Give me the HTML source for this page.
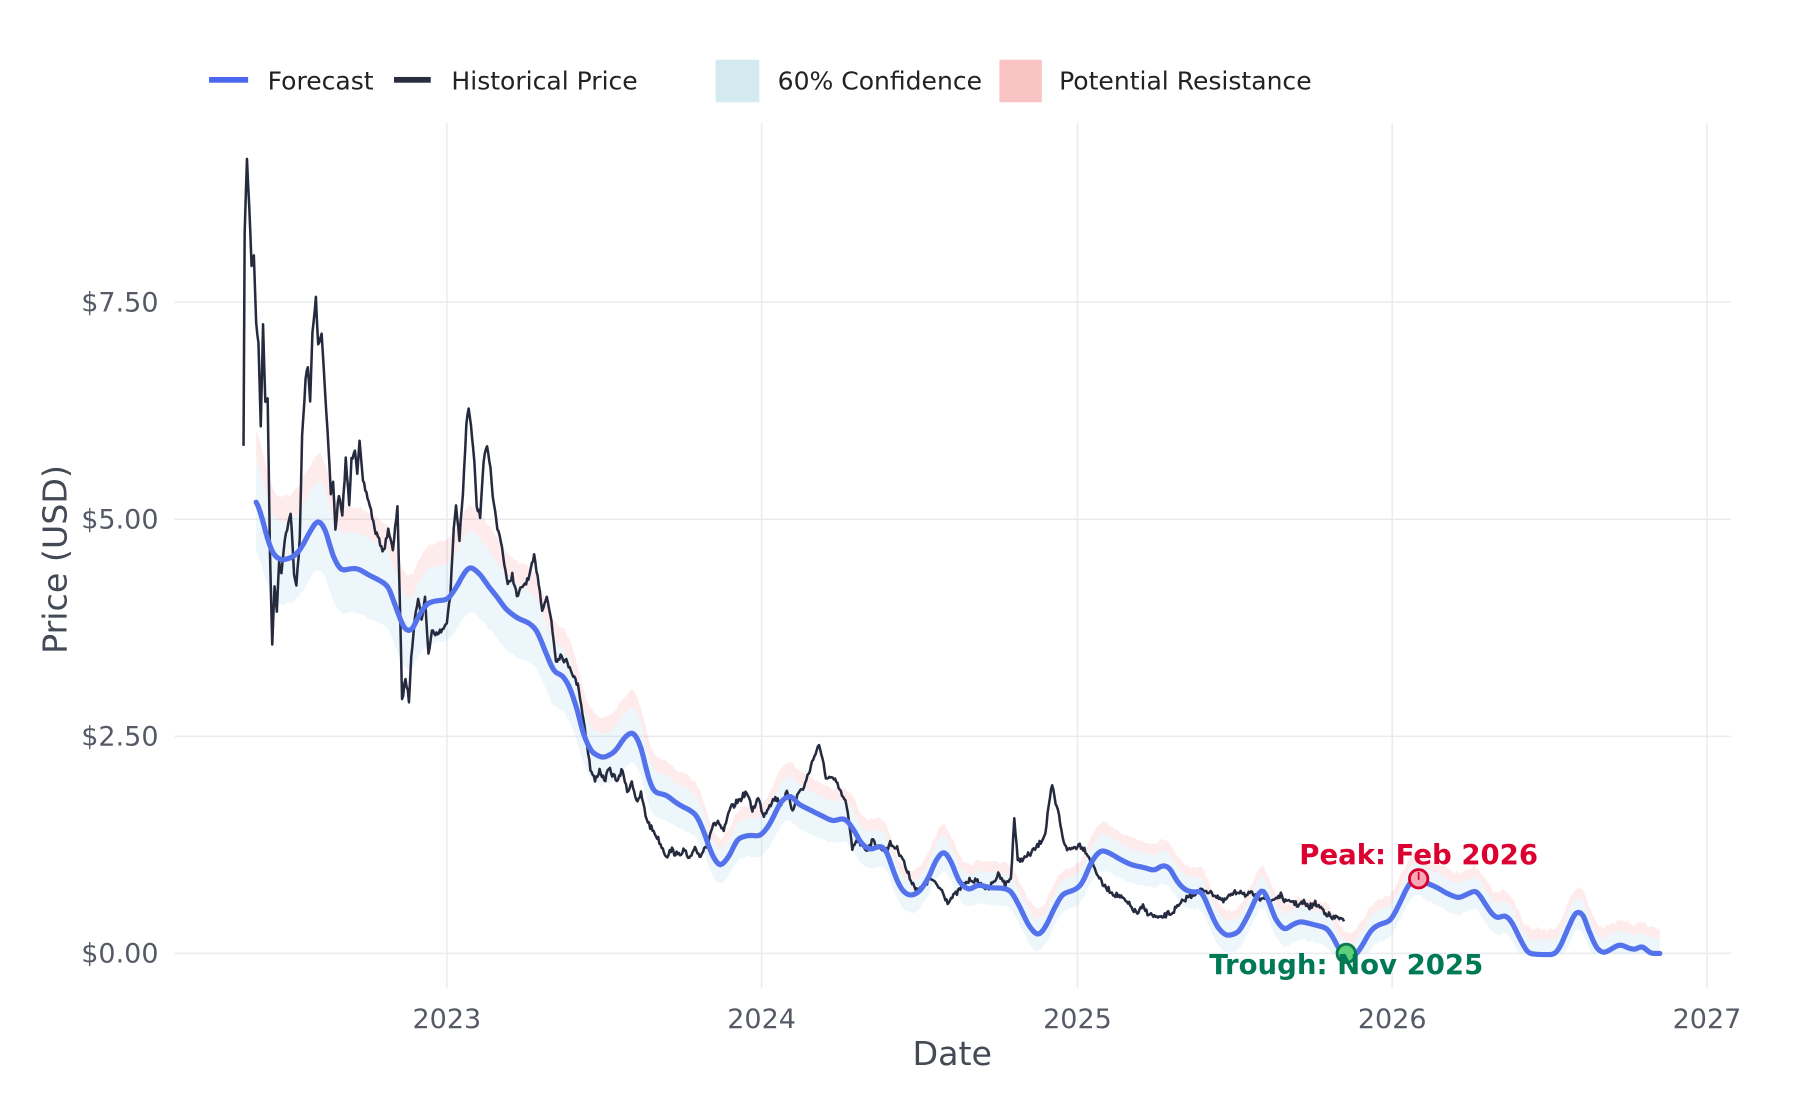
<!DOCTYPE html>
<html><head><meta charset="utf-8"><style>
html,body{margin:0;padding:0;background:#fff;width:1800px;height:1100px;overflow:hidden}
svg{display:block}
text{font-family:"DejaVu Sans","Liberation Sans",sans-serif}
</style></head><body>
<svg id="s" width="1800" height="1100" viewBox="0 0 1567 957.6" xmlns="http://www.w3.org/2000/svg">
<g stroke="#e9ebef" stroke-width="1.3">
<line x1="152" y1="263" x2="1507" y2="263"/><line x1="152" y1="452" x2="1507" y2="452"/>
<line x1="152" y1="641" x2="1507" y2="641"/><line x1="152" y1="830" x2="1507" y2="830"/>
<line x1="389" y1="107" x2="389" y2="860"/><line x1="663" y1="107" x2="663" y2="860"/>
<line x1="938" y1="107" x2="938" y2="860"/><line x1="1212" y1="107" x2="1212" y2="860"/>
<line x1="1486" y1="107" x2="1486" y2="860"/>
</g>
<g id="bands"></g>
<path id="hist" fill="none" stroke="#262a3e" stroke-width="2.2" stroke-linejoin="round"/>
<path id="fc" fill="none" stroke="#5472ec" stroke-width="4.5" stroke-linejoin="round" stroke-linecap="round"/>
<g fill="#555a66" font-size="23.5">
<text x="138" y="271" text-anchor="end">$7.50</text><text x="138" y="460" text-anchor="end">$5.00</text>
<text x="138" y="649" text-anchor="end">$2.50</text><text x="138" y="838" text-anchor="end">$0.00</text>
<text x="389" y="895" text-anchor="middle">2023</text><text x="663" y="895" text-anchor="middle">2024</text>
<text x="938" y="895" text-anchor="middle">2025</text><text x="1212" y="895" text-anchor="middle">2026</text>
<text x="1486" y="895" text-anchor="middle">2027</text>
</g>
<text x="829" y="927" text-anchor="middle" font-size="29" fill="#444a55">Date</text>
<text transform="translate(58,487) rotate(-90)" text-anchor="middle" font-size="29" fill="#444a55">Price (USD)</text>
<g font-size="21.8" fill="#222">
<rect x="182" y="67" width="34" height="5" fill="#4a66ee"/><text x="233" y="78">Forecast</text>
<rect x="343" y="67" width="32" height="5" fill="#2a2d40"/><text x="393" y="78">Historical Price</text>
<rect x="623" y="52" width="38" height="37" fill="#d4eaf1"/><text x="677" y="78">60% Confidence</text>
<rect x="870" y="52" width="37" height="37" fill="#f9c4c4"/><text x="922" y="78">Potential Resistance</text>
</g>
<circle cx="1235" cy="765" r="8" fill="#f7a8b8" stroke="#d9002c" stroke-width="2.5"/>
<line x1="1235" y1="759" x2="1235" y2="766" stroke="#d9002c" stroke-width="1.5"/>
<text x="1235" y="752" text-anchor="middle" font-size="24" font-weight="bold" fill="#dc0030">Peak: Feb 2026</text>
<circle cx="1172" cy="830" r="8" fill="#5ccf7a" stroke="#0a7a4d" stroke-width="2.5"/>
<text x="1172" y="848" text-anchor="middle" font-size="24" font-weight="bold" fill="#007a55">Trough: Nov 2025</text>
</svg>
<script>
var H=[[212,390],[213,200],[215,140],[217,180],[219,230],[221,222],[223,280],[225,300],[227,370],[229,285],[231,350],[233,345],[235,480],[237,560],[239,510],[241,530],[243,490],[245,500],[248,470],[250,460],[253,445],[256,500],[258,510],[261,470],[263,380],[266,330],[268,320],[270,350],[272,290],[275,260],[277,300],[280,290],[283,340],[286,390],[288,430],[290,420],[292,460],[295,430],[298,450],[301,400],[304,440],[306,400],[309,390],[311,410],[313,385],[316,420],[319,430],[322,440],[326,460],[330,470],[334,480],[338,460],[342,480],[346,440],[348,520],[350,610],[353,590],[356,610],[358,570],[361,540],[364,520],[367,540],[370,520],[373,570],[376,550],[380,550],[385,550],[389,540],[392,520],[395,460],[397,440],[400,470],[403,430],[406,370],[408,355],[411,380],[413,400],[415,440],[418,450],[421,400],[424,390],[427,410],[430,440],[433,460],[436,470],[439,490],[442,510],[446,500],[450,520],[455,510],[460,505],[465,485],[468,500],[472,530],[476,520],[480,540],[484,575],[488,570],[492,575],[496,580],[500,590],[504,600],[507,620],[510,640],[514,670],[518,680],[522,670],[526,680],[530,670],[534,675],[538,680],[542,670],[546,690],[550,680],[555,700],[558,690],[562,710],[566,720],[570,725],[575,735],[580,745],[585,740],[590,745],[595,740],[600,748],[605,740],[610,745],[615,735],[620,720],[625,715],[630,725],[635,705],[640,700],[645,695],[650,690],[655,705],[660,695],[665,710],[670,700],[675,695],[680,700],[685,690],[690,705],[695,690],[700,685],[705,670],[710,655],[713,648],[716,660],[719,680],[722,675],[727,680],[732,690],[737,700],[742,740],[746,730],[750,735],[755,740],[760,732],[765,738],[770,740],[775,735],[780,738],[785,745],[790,760],[795,770],[800,775],[805,770],[810,765],[815,770],[820,775],[825,785],[830,780],[835,775],[840,770],[845,765],[850,768],[855,770],[860,775],[865,768],[870,760],[875,770],[880,765],[883,712],[886,750],[890,748],[895,745],[900,740],[905,735],[910,725],[913,700],[916,685],[919,700],[922,710],[925,730],[930,740],[935,738],[940,735],[945,740],[950,750],[955,760],[960,770],[965,775],[970,778],[975,780],[980,785],[985,790],[990,795],[995,790],[1000,795],[1005,798],[1010,800],[1015,796],[1020,795],[1025,790],[1030,785],[1035,780],[1040,778],[1045,775],[1050,775],[1055,778],[1060,780],[1065,785],[1070,780],[1075,778],[1080,775],[1085,780],[1090,778],[1095,782],[1100,780],[1105,785],[1110,782],[1115,780],[1120,786],[1125,784],[1130,788],[1135,786],[1140,790],[1145,787],[1150,790],[1155,795],[1160,800],[1165,798],[1170,803]];
var F=[[223,435],[228,450],[233,470],[238,483],[245,488],[255,485],[262,478],[270,462],[277,452],[283,460],[290,485],[297,497],[305,495],[312,495],[320,500],[330,505],[338,510],[345,530],[352,548],[358,550],[365,535],[372,525],[380,523],[390,522],[398,510],[405,497],[410,493],[418,500],[425,510],[433,520],[440,530],[450,538],[460,542],[467,548],[474,565],[482,585],[490,588],[497,600],[503,620],[508,640],[515,655],[525,660],[535,655],[545,640],[552,637],[558,650],[565,680],[570,690],[580,692],[590,700],[600,705],[607,710],[613,725],[620,745],[627,755],[635,745],[642,730],[652,727],[662,728],[670,718],[680,697],[688,692],[695,700],[705,705],[715,710],[725,715],[735,712],[742,720],[750,735],[758,740],[766,736],[772,740],[778,760],[785,775],[792,780],[800,777],[808,765],[815,748],[822,740],[828,750],[835,768],[843,775],[852,770],[862,773],[872,773],[880,775],[888,790],[895,805],[903,815],[910,808],[918,790],[925,778],[935,775],[942,770],[950,750],[958,740],[965,742],[975,748],[985,753],[995,755],[1005,758],[1012,753],[1018,755],[1025,768],[1032,775],[1040,777],[1046,775],[1052,790],[1060,808],[1068,815],[1078,812],[1085,800],[1092,785],[1098,773],[1103,780],[1110,800],[1118,810],[1125,805],[1132,802],[1140,804],[1148,806],[1155,808],[1160,815],[1165,825],[1170,832],[1177,835],[1185,825],[1193,810],[1200,805],[1210,802],[1217,790],[1225,772],[1233,762],[1240,768],[1250,772],[1260,778],[1270,782],[1278,778],[1285,775],[1292,785],[1298,795],[1304,800],[1310,796],[1316,802],[1322,815],[1330,830],[1340,831],[1353,831],[1358,825],[1365,808],[1372,793],[1378,795],[1383,810],[1390,826],[1396,830],[1403,826],[1410,822],[1417,825],[1423,827],[1430,823],[1436,830],[1445,830]];
var seed=7;function r(){seed=(seed*16807)%2147483647;return seed/2147483647-0.5;}
function dense(P,step){var o=[];for(var i=0;i<P.length-1;i++){var a=P[i],b=P[i+1];var n=Math.max(1,Math.round((b[0]-a[0])/step));for(var k=0;k<n;k++){var t=k/n;o.push([a[0]+(b[0]-a[0])*t,a[1]+(b[1]-a[1])*t]);}}o.push(P[P.length-1]);return o;}
var hd=dense(H,1).map(function(p,i){return [p[0],p[1]+r()*6*(i%2?1:0.6)];});
document.getElementById('hist').setAttribute('d','M'+hd.map(function(p){return p[0].toFixed(1)+','+p[1].toFixed(1)}).join('L'));
function sm(P){var o=[];for(var i=0;i<P.length;i++){var s=0,w=0;for(var j=-2;j<=2;j++){var q=P[Math.min(P.length-1,Math.max(0,i+j))];var ww=3-Math.abs(j);s+=q[1]*ww;w+=ww;}o.push([P[i][0],s/w]);}return o;}
var fs=sm(dense(F,2));
document.getElementById('fc').setAttribute('d','M'+fs.map(function(p){return p[0].toFixed(1)+','+Math.min(p[1],831).toFixed(1)}).join('L'));
var up=[],lo=[],rt=[];
fs.forEach(function(p){var w=Math.max(6,(830-p[1])*0.09)+10;var u=p[1]-w*0.8+r()*2;var l=Math.min(830,p[1]+w*0.95+r()*2);var t=u-Math.max(6,w*0.55)+r()*3;up.push([p[0],u]);lo.push([p[0],l]);rt.push([p[0],t]);});
function area(A,B,fill){var d='M'+A.map(function(p){return p[0].toFixed(1)+','+p[1].toFixed(1)}).join('L')+'L'+B.slice().reverse().map(function(p){return p[0].toFixed(1)+','+p[1].toFixed(1)}).join('L')+'Z';return '<path d="'+d+'" fill="'+fill+'"/>';}
document.getElementById('bands').innerHTML=area(rt,up,'rgba(245,120,120,0.15)')+area(up,lo,'rgba(173,216,230,0.22)');
</script>
</body></html>
